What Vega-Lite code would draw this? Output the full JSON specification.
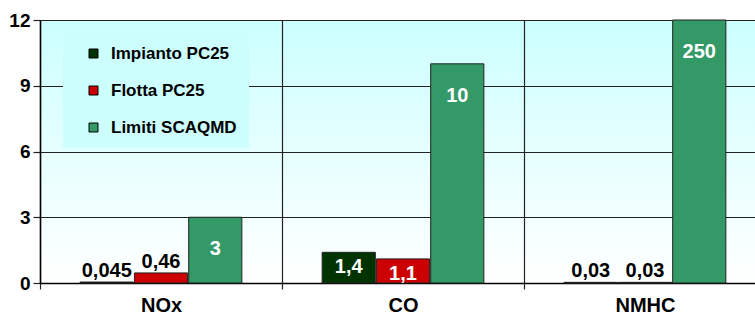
{
  "$schema": "https://vega.github.io/schema/vega-lite/v6.json",
  "width": 715,
  "height": 263,
  "autosize": {"type": "none"},
  "padding": {"left": 40, "top": 20, "right": 0, "bottom": 33},
  "background": "white",
  "config": {
    "font": "Liberation Sans",
    "view": {
      "stroke": null,
      "fill": {"gradient": "linear", "x1": 0, "y1": 0, "x2": 0, "y2": 1,
        "stops": [{"offset": 0, "color": "#ccffff"}, {"offset": 1, "color": "#ffffff"}]}
    }
  },
  "data": {
    "values": [
      {"pollutant": "NOx", "series": "Impianto PC25", "value": 0.045, "label": "0,045"},
      {"pollutant": "NOx", "series": "Flotta PC25", "value": 0.46, "label": "0,46"},
      {"pollutant": "NOx", "series": "Limiti SCAQMD", "value": 3, "label": "3"},
      {"pollutant": "CO", "series": "Impianto PC25", "value": 1.4, "label": "1,4"},
      {"pollutant": "CO", "series": "Flotta PC25", "value": 1.1, "label": "1,1"},
      {"pollutant": "CO", "series": "Limiti SCAQMD", "value": 10, "label": "10"},
      {"pollutant": "NMHC", "series": "Impianto PC25", "value": 0.03, "label": "0,03"},
      {"pollutant": "NMHC", "series": "Flotta PC25", "value": 0.03, "label": "0,03"},
      {"pollutant": "NMHC", "series": "Limiti SCAQMD", "value": 250, "label": "250"}
    ]
  },
  "encoding": {
    "x": {
      "field": "pollutant", "type": "nominal", "sort": ["NOx", "CO", "NMHC"],
      "scale": {"range": [0, 726], "paddingInner": 0, "paddingOuter": 0},
      "axis": {
        "title": null, "labelAngle": 0, "labelFontSize": 20, "labelFontWeight": "bold",
        "labelColor": "#000", "labelPadding": 6, "tickBand": "extent", "ticks": true,
        "tickSize": 6, "tickColor": "#222", "tickWidth": 1.2, "grid": true,
        "gridColor": "#222", "gridWidth": 1.2, "gridOpacity": 1,
        "domainColor": "#000", "domainWidth": 1.5
      }
    },
    "xOffset": {
      "field": "series", "type": "nominal",
      "sort": ["Impianto PC25", "Flotta PC25", "Limiti SCAQMD"],
      "scale": {"paddingOuter": 0.74, "paddingInner": 0.02}
    },
    "y": {
      "field": "value", "type": "quantitative",
      "scale": {"domain": [0, 12], "clamp": true, "nice": false},
      "axis": {
        "title": null, "values": [0, 3, 6, 9, 12], "labelFontSize": 19, "labelFontWeight": "bold",
        "labelColor": "#000", "labelPadding": 3, "tickSize": 7, "tickColor": "#222", "tickWidth": 1.2,
        "grid": true, "gridColor": "#222", "gridWidth": 1.2, "gridOpacity": 1,
        "domainColor": "#000", "domainWidth": 1.5
      }
    }
  },
  "layer": [
    {
      "mark": {"type": "bar", "stroke": "#222", "strokeWidth": 1},
      "encoding": {
        "color": {
          "field": "series", "type": "nominal",
          "sort": ["Impianto PC25", "Flotta PC25", "Limiti SCAQMD"],
          "scale": {"domain": ["Impianto PC25", "Flotta PC25", "Limiti SCAQMD"], "range": ["#003300", "#cc0000", "#339966"]},
          "legend": {
            "title": null, "orient": "none", "legendX": 23, "legendY": 13,
            "fillColor": "#cdfefe", "padding": 12, "symbolOffset": 10,
            "symbolType": "square", "symbolSize": 81, "symbolStrokeColor": "#000", "symbolStrokeWidth": 1,
            "labelFontSize": 17, "labelFontWeight": "bold", "labelColor": "#000", "labelOffset": 9,
            "rowPadding": 19, "labelLimit": 300
          }
        }
      }
    },
    {
      "transform": [{"filter": "datum.value < 1"}],
      "mark": {"type": "text", "baseline": "bottom", "dy": -1, "fontSize": 20, "fontWeight": "bold", "color": "#000"},
      "encoding": {"text": {"field": "label"}}
    },
    {
      "transform": [{"filter": "datum.value >= 1 && datum.series != 'Limiti SCAQMD'"}],
      "mark": {"type": "text", "baseline": "middle", "dy": 15, "fontSize": 20, "fontWeight": "bold", "color": "#fff"},
      "encoding": {"text": {"field": "label"}}
    },
    {
      "transform": [{"filter": "datum.series == 'Limiti SCAQMD'"}],
      "mark": {"type": "text", "baseline": "middle", "dy": 32, "fontSize": 20, "fontWeight": "bold", "color": "#fff"},
      "encoding": {"text": {"field": "label"}}
    }
  ]
}
